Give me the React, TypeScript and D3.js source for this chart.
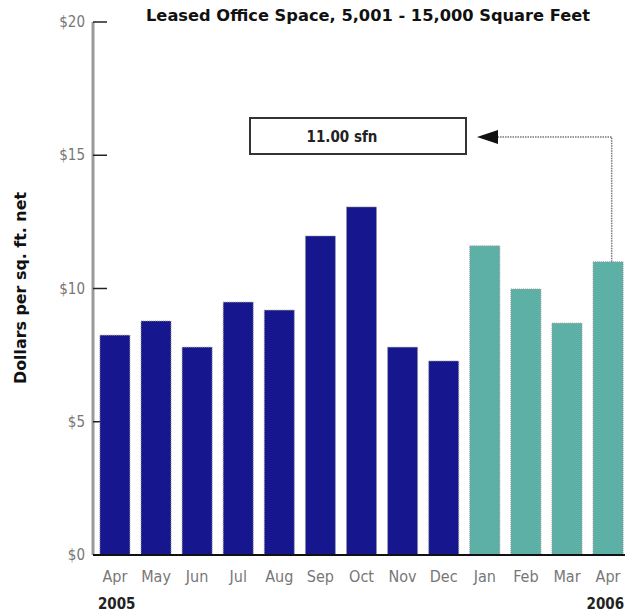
import React from "react";
import * as d3 from "d3";

const months = ["Apr", "May", "Jun", "Jul", "Aug", "Sep", "Oct", "Nov", "Dec", "Jan", "Feb", "Mar", "Apr"];
const keys = months.map((m, i) => `${m}-${i}`);
const values = [8.25, 8.78, 7.8, 9.49, 9.19, 11.97, 13.06, 7.8, 7.28, 11.6, 9.98, 8.7, 11.0];
const yearOf = [2005, 2005, 2005, 2005, 2005, 2005, 2005, 2005, 2005, 2006, 2006, 2006, 2006];
const yTicks = [0, 5, 10, 15, 20];
const yearLabels = ["2005", "2006"];
const annotationText = "11.00 sfn";
const annotationValue = 11.0;
const titleText = "Leased Office Space, 5,001 - 15,000 Square Feet";
const yLabel = "Dollars per sq. ft. net";

export default function App() {
  const W = 635, H = 616;
  const left = 93, right = 628, top = 22, bottom = 555;
  const x = d3.scaleBand<string>().domain(keys).range([left + 2, right]).paddingInner(0.27).paddingOuter(0.12);
  const y = d3.scaleLinear().domain([0, 20]).range([bottom, top]);
  const navy = "#16168e";
  const teal = "#5cb0a6";
  const condensed = "'DejaVu Sans Condensed', 'Liberation Sans Narrow', Arial, sans-serif";
  const lastKey = keys[keys.length - 1];
  const arrowX = (x(lastKey) ?? 0) + x.bandwidth() * 0.62;
  const arrowY = 137;
  return (
    <svg width={W} height={H} style={{ position: "absolute", left: 0, top: 0, background: "#fff" }}>
      <text x={368} y={21} textAnchor="middle" fontFamily={condensed} fontWeight="bold" fontSize={15}
        textLength={444} lengthAdjust="spacingAndGlyphs" fill="#111">{titleText}</text>
      {/* y axis */}
      <line x1={left} x2={left} y1={top} y2={bottom} stroke="#9a9a9a" strokeWidth={3} />
      {yTicks.map((t) => (
        <g key={t}>
          <line x1={left} x2={left + 14} y1={y(t)} y2={y(t)} stroke="#222" strokeWidth={1.5} />
          <text x={left - 8} y={y(t) + 5} textAnchor="end" fontFamily={condensed} fontSize={15} fill="#777">{`$${t}`}</text>
        </g>
      ))}
      <text transform={`translate(26,${288}) rotate(-90)`} textAnchor="middle" fontFamily={condensed} fontWeight="bold"
        fontSize={15} textLength={192} lengthAdjust="spacingAndGlyphs" fill="#111">{yLabel}</text>
      {/* bars */}
      {values.map((v, i) => {
        const bx = x(keys[i]) ?? 0;
        const fill = yearOf[i] === 2005 ? navy : teal;
        return (
          <rect key={keys[i]} x={bx} y={y(v)} width={x.bandwidth()} height={y(0) - y(v)} fill={fill}
            stroke="#999" strokeWidth={1} strokeDasharray="1 1" />
        );
      })}
      <line x1={left} x2={right - 3} y1={bottom} y2={bottom} stroke="#111" strokeWidth={2} />
      {months.map((m, i) => (
        <text key={keys[i]} x={(x(keys[i]) ?? 0) + x.bandwidth() / 2} y={582} textAnchor="middle" fontFamily={condensed}
          fontSize={16} fill="#777">{m}</text>
      ))}
      <text x={(x(keys[0]) ?? 0) - 2} y={609} fontFamily={condensed} fontWeight="bold" fontSize={15} fill="#222">{yearLabels[0]}</text>
      <text x={(x(lastKey) ?? 0) + x.bandwidth() + 1} y={609} textAnchor="end" fontFamily={condensed} fontWeight="bold" fontSize={15} fill="#222">{yearLabels[1]}</text>
      {/* annotation */}
      <rect x={250} y={118} width={216} height={36} fill="#fff" stroke="#333" strokeWidth={2} />
      <text x={342} y={142} textAnchor="middle" fontFamily={condensed} fontWeight="bold" fontSize={15} fill="#222">{annotationText}</text>
      <path d={`M${arrowX},${y(annotationValue)} V${arrowY} H${498}`} fill="none" stroke="#777" strokeWidth={1.5} strokeDasharray="1.5 1" />
      <path d={`M477,${arrowY} L498,${arrowY - 7} L498,${arrowY + 7} Z`} fill="#111" />
    </svg>
  );
}
